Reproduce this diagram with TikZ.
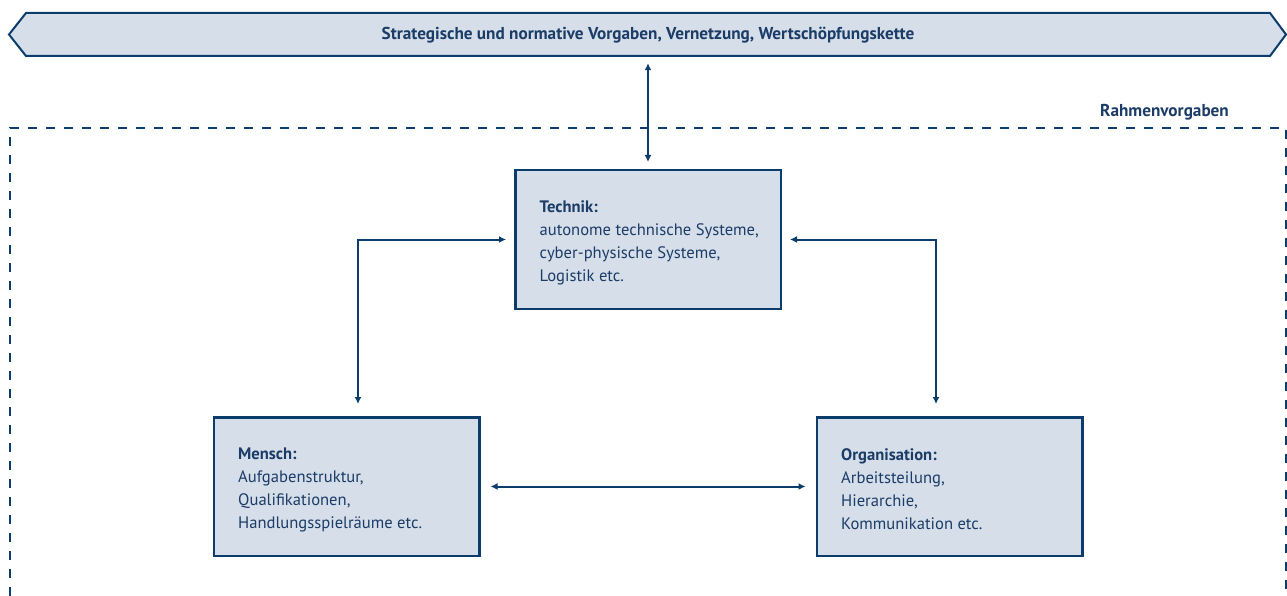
\documentclass[tikz,border=0pt]{standalone}
\usepackage{fontspec}
\setmainfont{PT Sans}
\usetikzlibrary{arrows.meta,positioning}
\definecolor{dunkelblau}{HTML}{0B3C6C}
\definecolor{hellblau}{HTML}{D6DEEA}
\definecolor{textblau}{HTML}{1A3C66}

\begin{document}
\begin{tikzpicture}[x=1pt, y=-1pt,
    every node/.style={font=\fontsize{16.6}{23}\selectfont, text=textblau},
    kasten/.style={draw=dunkelblau, line width=2.5pt, fill=hellblau, minimum width=265.5pt, minimum height=138.5pt, inner sep=0pt},
    inhalt/.style={align=left, inner sep=0pt, yshift=-3pt},
    titel/.style={font=\fontsize{17.2}{20}\selectfont\bfseries, inner sep=0pt},
    pfeil/.style={draw=dunkelblau, line width=2pt, {Latex[length=7pt,width=7pt]}-{Latex[length=7pt,width=7pt]}}]
    \useasboundingbox (0,0) rectangle (1287,596);

    % Vorgaben
    \draw[dunkelblau, line width=2pt, fill=hellblau] (9,34.5) -- (26,13) -- (1270,13) -- (1286,34.5) -- (1270,56) -- (26,56) -- cycle;
    \node[titel, minimum height=43pt] (vorgaben) at (648,35.5) {Strategische und normative Vorgaben, Vernetzung, Wertschöpfungskette};

    % Rahmen
    \draw[dunkelblau, line width=2.5pt, dash pattern=on 9pt off 9pt] (10,596) -- (10,128) -- (1286,128) -- (1286,596);
    \node[titel, anchor=base east] (rahmen) at (1229,117) {Rahmenvorgaben};

    % Kaesten
    \node[kasten] (technik) at (648,239.5) {};
    \node[inhalt, right=25.5pt of technik.west] (technik text) {\textbf{Technik:}\\autonome technische Systeme,\\cyber-physische Systeme,\\Logistik etc.};
    \node[kasten] (mensch) at (346.5,486.5) {};
    \node[inhalt, right=25.5pt of mensch.west] (mensch text) {\textbf{Mensch:}\\Aufgabenstruktur,\\Qualifikationen,\\Handlungsspielräume etc.};
    \node[kasten] (orga) at (949.5,486.5) {};
    \node[inhalt, right=25.5pt of orga.west] (orga text) {\textbf{Organisation:}\\Arbeitsteilung,\\Hierarchie,\\Kommunikation etc.};

    % Pfeile
    \coordinate (ecke links) at (358,239.5);
    \coordinate (ecke rechts) at (936,239.5);
    \draw[pfeil, shorten <=6pt, shorten >=7pt] (vorgaben.south) -- (technik.north);
    \draw[pfeil, shorten <=8pt, shorten >=12pt] (technik.west) -- (ecke links) -- (ecke links |- mensch.north);
    \draw[pfeil, shorten <=8pt, shorten >=12pt] (technik.east) -- (ecke rechts) -- (ecke rechts |- orga.north);
    \draw[pfeil, shorten <=10pt, shorten >=10pt] (mensch.east) -- (orga.west);
\end{tikzpicture}
\end{document}
